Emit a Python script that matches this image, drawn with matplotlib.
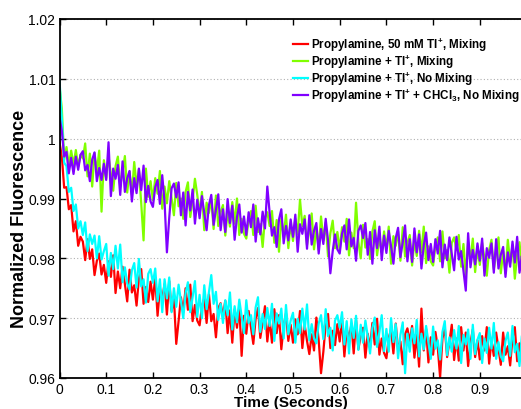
import numpy as np
import matplotlib
matplotlib.use("Agg")
import matplotlib.pyplot as plt

plt.rcParams.update({
    "font.family": ["Liberation Sans", "DejaVu Sans"],
    "mathtext.fontset": "custom",
    "mathtext.rm": "Liberation Sans:bold",
    "mathtext.bf": "Liberation Sans:bold",
    "mathtext.it": "Liberation Sans:bold",
    "mathtext.default": "bf",
})

# Fluorescence traces sampled every 5 ms over the first second
sample_interval = 0.005

red_mix_50mM = [
    0.9994, 0.9970, 0.9918, 0.9919, 0.9882, 0.9889, 0.9845, 0.9862, 0.9821, 0.9836,
    0.9828, 0.9797, 0.9832, 0.9799, 0.9815, 0.9772, 0.9796, 0.9808, 0.9773, 0.9789,
    0.9759, 0.9795, 0.9769, 0.9805, 0.9742, 0.9778, 0.9750, 0.9786, 0.9757, 0.9728,
    0.9781, 0.9743, 0.9755, 0.9721, 0.9766, 0.9782, 0.9724, 0.9752, 0.9727, 0.9761,
    0.9731, 0.9768, 0.9704, 0.9750, 0.9733, 0.9757, 0.9706, 0.9762, 0.9712, 0.9734,
    0.9657, 0.9695, 0.9735, 0.9710, 0.9750, 0.9714, 0.9756, 0.9695, 0.9722, 0.9696,
    0.9688, 0.9720, 0.9733, 0.9692, 0.9740, 0.9695, 0.9707, 0.9668, 0.9717, 0.9725,
    0.9704, 0.9729, 0.9675, 0.9713, 0.9659, 0.9715, 0.9684, 0.9720, 0.9637, 0.9704,
    0.9674, 0.9712, 0.9685, 0.9657, 0.9699, 0.9717, 0.9667, 0.9693, 0.9720, 0.9661,
    0.9697, 0.9659, 0.9715, 0.9675, 0.9705, 0.9648, 0.9687, 0.9708, 0.9662, 0.9689,
    0.9659, 0.9698, 0.9673, 0.9712, 0.9650, 0.9689, 0.9662, 0.9640, 0.9673, 0.9646,
    0.9701, 0.9663, 0.9608, 0.9644, 0.9690, 0.9707, 0.9650, 0.9679, 0.9655, 0.9690,
    0.9661, 0.9698, 0.9636, 0.9682, 0.9666, 0.9690, 0.9641, 0.9697, 0.9648, 0.9671,
    0.9684, 0.9634, 0.9674, 0.9650, 0.9692, 0.9656, 0.9699, 0.9639, 0.9666, 0.9642,
    0.9633, 0.9667, 0.9681, 0.9641, 0.9691, 0.9647, 0.9661, 0.9623, 0.9673, 0.9683,
    0.9661, 0.9687, 0.9634, 0.9672, 0.9619, 0.9716, 0.9646, 0.9682, 0.9626, 0.9668,
    0.9639, 0.9677, 0.9651, 0.9601, 0.9666, 0.9684, 0.9635, 0.9661, 0.9689, 0.9630,
    0.9666, 0.9629, 0.9685, 0.9646, 0.9676, 0.9620, 0.9659, 0.9681, 0.9635, 0.9663,
    0.9631, 0.9670, 0.9646, 0.9685, 0.9624, 0.9663, 0.9637, 0.9676, 0.9649, 0.9622,
    0.9676, 0.9639, 0.9653, 0.9621, 0.9667, 0.9685, 0.9628, 0.9658, 0.9634, 0.9670,
]

green_mix = [
    1.0088, 1.0050, 0.9965, 0.9986, 0.9955, 0.9980, 0.9956, 0.9981, 0.9953, 0.9973,
    0.9967, 0.9992, 0.9937, 0.9975, 0.9920, 0.9976, 0.9945, 0.9980, 0.9878, 0.9964,
    0.9934, 0.9970, 0.9942, 0.9913, 0.9954, 0.9970, 0.9920, 0.9944, 0.9971, 0.9910,
    0.9945, 0.9907, 0.9961, 0.9921, 0.9949, 0.9892, 0.9830, 0.9950, 0.9903, 0.9929,
    0.9897, 0.9934, 0.9908, 0.9946, 0.9883, 0.9920, 0.9892, 0.9929, 0.9901, 0.9872,
    0.9926, 0.9887, 0.9900, 0.9866, 0.9911, 0.9927, 0.9869, 0.9897, 0.9933, 0.9906,
    0.9874, 0.9911, 0.9847, 0.9893, 0.9876, 0.9899, 0.9849, 0.9905, 0.9854, 0.9877,
    0.9889, 0.9838, 0.9878, 0.9853, 0.9894, 0.9858, 0.9900, 0.9839, 0.9866, 0.9841,
    0.9833, 0.9866, 0.9879, 0.9839, 0.9888, 0.9844, 0.9857, 0.9819, 0.9868, 0.9877,
    0.9854, 0.9879, 0.9826, 0.9864, 0.9811, 0.9867, 0.9837, 0.9873, 0.9817, 0.9858,
    0.9829, 0.9866, 0.9840, 0.9898, 0.9854, 0.9871, 0.9822, 0.9847, 0.9875, 0.9815,
    0.9852, 0.9814, 0.9870, 0.9830, 0.9860, 0.9803, 0.9842, 0.9863, 0.9817, 0.9844,
    0.9814, 0.9852, 0.9828, 0.9866, 0.9805, 0.9843, 0.9817, 0.9893, 0.9828, 0.9800,
    0.9856, 0.9818, 0.9832, 0.9799, 0.9845, 0.9862, 0.9805, 0.9834, 0.9810, 0.9845,
    0.9816, 0.9853, 0.9791, 0.9837, 0.9821, 0.9845, 0.9796, 0.9852, 0.9803, 0.9826,
    0.9839, 0.9788, 0.9829, 0.9804, 0.9846, 0.9810, 0.9853, 0.9792, 0.9820, 0.9795,
    0.9788, 0.9821, 0.9835, 0.9795, 0.9845, 0.9800, 0.9814, 0.9776, 0.9826, 0.9835,
    0.9814, 0.9839, 0.9786, 0.9824, 0.9771, 0.9827, 0.9797, 0.9833, 0.9777, 0.9818,
    0.9789, 0.9826, 0.9800, 0.9771, 0.9814, 0.9831, 0.9782, 0.9807, 0.9835, 0.9775,
    0.9812, 0.9775, 0.9831, 0.9792, 0.9822, 0.9766, 0.9805, 0.9827, 0.9781, 0.9809,
]

cyan_no_mix = [
    1.0098, 1.0032, 0.9960, 0.9954, 0.9911, 0.9918, 0.9879, 0.9890, 0.9850, 0.9862,
    0.9839, 0.9860, 0.9812, 0.9840, 0.9824, 0.9838, 0.9800, 0.9837, 0.9798, 0.9812,
    0.9824, 0.9771, 0.9809, 0.9782, 0.9821, 0.9783, 0.9823, 0.9760, 0.9785, 0.9758,
    0.9748, 0.9780, 0.9792, 0.9751, 0.9799, 0.9753, 0.9765, 0.9726, 0.9774, 0.9782,
    0.9759, 0.9783, 0.9728, 0.9765, 0.9710, 0.9765, 0.9733, 0.9768, 0.9710, 0.9750,
    0.9719, 0.9756, 0.9729, 0.9700, 0.9742, 0.9760, 0.9710, 0.9735, 0.9762, 0.9702,
    0.9739, 0.9700, 0.9755, 0.9715, 0.9743, 0.9772, 0.9724, 0.9744, 0.9697, 0.9724,
    0.9692, 0.9730, 0.9705, 0.9743, 0.9681, 0.9720, 0.9693, 0.9731, 0.9703, 0.9675,
    0.9730, 0.9692, 0.9705, 0.9673, 0.9718, 0.9735, 0.9677, 0.9707, 0.9682, 0.9717,
    0.9687, 0.9724, 0.9662, 0.9708, 0.9691, 0.9716, 0.9666, 0.9722, 0.9673, 0.9696,
    0.9709, 0.9659, 0.9699, 0.9675, 0.9716, 0.9681, 0.9723, 0.9663, 0.9690, 0.9666,
    0.9658, 0.9691, 0.9705, 0.9665, 0.9715, 0.9670, 0.9684, 0.9646, 0.9696, 0.9705,
    0.9684, 0.9710, 0.9656, 0.9695, 0.9641, 0.9698, 0.9667, 0.9704, 0.9647, 0.9689,
    0.9659, 0.9696, 0.9670, 0.9641, 0.9684, 0.9701, 0.9652, 0.9677, 0.9705, 0.9645,
    0.9682, 0.9644, 0.9700, 0.9660, 0.9690, 0.9633, 0.9672, 0.9693, 0.9608, 0.9674,
    0.9644, 0.9683, 0.9658, 0.9697, 0.9636, 0.9674, 0.9648, 0.9687, 0.9659, 0.9632,
    0.9686, 0.9649, 0.9663, 0.9631, 0.9677, 0.9695, 0.9638, 0.9668, 0.9644, 0.9680,
    0.9649, 0.9687, 0.9625, 0.9672, 0.9656, 0.9681, 0.9632, 0.9689, 0.9640, 0.9664,
    0.9675, 0.9625, 0.9666, 0.9642, 0.9684, 0.9649, 0.9692, 0.9632, 0.9660, 0.9636,
    0.9628, 0.9662, 0.9676, 0.9637, 0.9687, 0.9643, 0.9657, 0.9620, 0.9670, 0.9680,
]

purple_chcl3_no_mix = [
    1.0036, 1.0013, 0.9970, 0.9978, 0.9942, 0.9968, 0.9941, 0.9970, 0.9948, 0.9973,
    0.9979, 0.9947, 0.9956, 0.9929, 0.9965, 0.9977, 0.9929, 0.9951, 0.9931, 0.9958,
    0.9931, 0.9994, 0.9904, 0.9950, 0.9933, 0.9956, 0.9906, 0.9962, 0.9911, 0.9934,
    0.9946, 0.9895, 0.9934, 0.9909, 0.9950, 0.9914, 0.9955, 0.9894, 0.9921, 0.9895,
    0.9886, 0.9919, 0.9931, 0.9891, 0.9939, 0.9894, 0.9810, 0.9868, 0.9917, 0.9925,
    0.9902, 0.9927, 0.9872, 0.9910, 0.9855, 0.9911, 0.9880, 0.9915, 0.9858, 0.9898,
    0.9867, 0.9904, 0.9876, 0.9847, 0.9889, 0.9906, 0.9856, 0.9881, 0.9907, 0.9847,
    0.9882, 0.9844, 0.9899, 0.9859, 0.9888, 0.9831, 0.9869, 0.9890, 0.9843, 0.9870,
    0.9839, 0.9877, 0.9852, 0.9890, 0.9828, 0.9867, 0.9840, 0.9878, 0.9850, 0.9920,
    0.9876, 0.9838, 0.9852, 0.9819, 0.9865, 0.9882, 0.9825, 0.9854, 0.9830, 0.9865,
    0.9836, 0.9873, 0.9811, 0.9857, 0.9841, 0.9865, 0.9816, 0.9872, 0.9823, 0.9846,
    0.9859, 0.9808, 0.9849, 0.9824, 0.9866, 0.9830, 0.9775, 0.9812, 0.9840, 0.9815,
    0.9808, 0.9841, 0.9855, 0.9815, 0.9865, 0.9820, 0.9834, 0.9796, 0.9846, 0.9855,
    0.9834, 0.9859, 0.9806, 0.9844, 0.9791, 0.9847, 0.9817, 0.9853, 0.9797, 0.9838,
    0.9809, 0.9846, 0.9820, 0.9791, 0.9834, 0.9851, 0.9802, 0.9827, 0.9855, 0.9795,
    0.9832, 0.9794, 0.9850, 0.9810, 0.9840, 0.9783, 0.9822, 0.9843, 0.9797, 0.9824,
    0.9794, 0.9832, 0.9808, 0.9846, 0.9785, 0.9823, 0.9797, 0.9835, 0.9808, 0.9780,
    0.9836, 0.9798, 0.9812, 0.9779, 0.9746, 0.9842, 0.9785, 0.9814, 0.9790, 0.9825,
    0.9796, 0.9833, 0.9771, 0.9817, 0.9801, 0.9825, 0.9776, 0.9832, 0.9783, 0.9806,
    0.9819, 0.9769, 0.9810, 0.9786, 0.9828, 0.9793, 0.9836, 0.9776, 0.9804, 0.9780,
]

series_labels = [
    "Propylamine, 50 mM Tl$^{+}$, Mixing",
    "Propylamine + Tl$^{+}$, Mixing",
    "Propylamine + Tl$^{+}$, No Mixing",
    "Propylamine + Tl$^{+}$ + CHCl$_{3}$, No Mixing",
]
series_colors = ["#ff0000", "#80ff00", "#00ffff", "#8000ff"]

x_ticks = [0, 0.1, 0.2, 0.3, 0.4, 0.5, 0.6, 0.7, 0.8, 0.9]
x_tick_labels = ["0", "0.1", "0.2", "0.3", "0.4", "0.5", "0.6", "0.7", "0.8", "0.9"]
y_ticks = [0.96, 0.97, 0.98, 0.99, 1.00, 1.01, 1.02]
y_tick_labels = ["0.96", "0.97", "0.98", "0.99", "1", "1.01", "1.02"]

W, H = 521, 410
fig = plt.figure(figsize=(W / 100, H / 100), dpi=100)
# axes box runs slightly past the right edge of the canvas
ax = fig.add_axes([59.5 / W, (H - 379) / H, 467 / W, 359 / H])

series = [red_mix_50mM, green_mix, cyan_no_mix, purple_chcl3_no_mix]
for values, color, label in zip(series, series_colors, series_labels):
    t = np.arange(len(values)) * sample_interval
    ax.plot(t, values, color=color, lw=1.6, label=label)

ax.set_xlim(0, 1.0)
ax.set_ylim(0.96, 1.02)
ax.set_xticks(x_ticks)
ax.set_xticklabels(x_tick_labels)
ax.set_yticks(y_ticks)
ax.set_yticklabels(y_tick_labels)

ax.yaxis.grid(True, linestyle=(0, (1, 2)), color="#b0b0b0", lw=0.8)
ax.set_axisbelow(True)

ax.tick_params(direction="in", top=True, right=True, length=4, width=1.0,
               labelsize=10, pad=3, colors="black")
for sp in ax.spines.values():
    sp.set_linewidth(1.3)

ax.set_xlabel("Time (Seconds)", fontsize=11, fontweight="bold")
ax.set_ylabel("Normalized Fluorescence", fontsize=13, fontweight="bold")
ax.xaxis.set_label_coords(0.5 - 2 / 467, -17 / 359)
ax.yaxis.set_label_coords(-31 / 467, 0.446)

leg = ax.legend(loc="upper left", bbox_to_anchor=(293 / W, 1 - 37 / H),
                bbox_transform=fig.transFigure, frameon=False,
                prop={"weight": "bold", "size": 8.4}, handlelength=1.25,
                handletextpad=0.3, labelspacing=-0.05, borderpad=0,
                borderaxespad=0)

fig.savefig("out.png", dpi=100)
